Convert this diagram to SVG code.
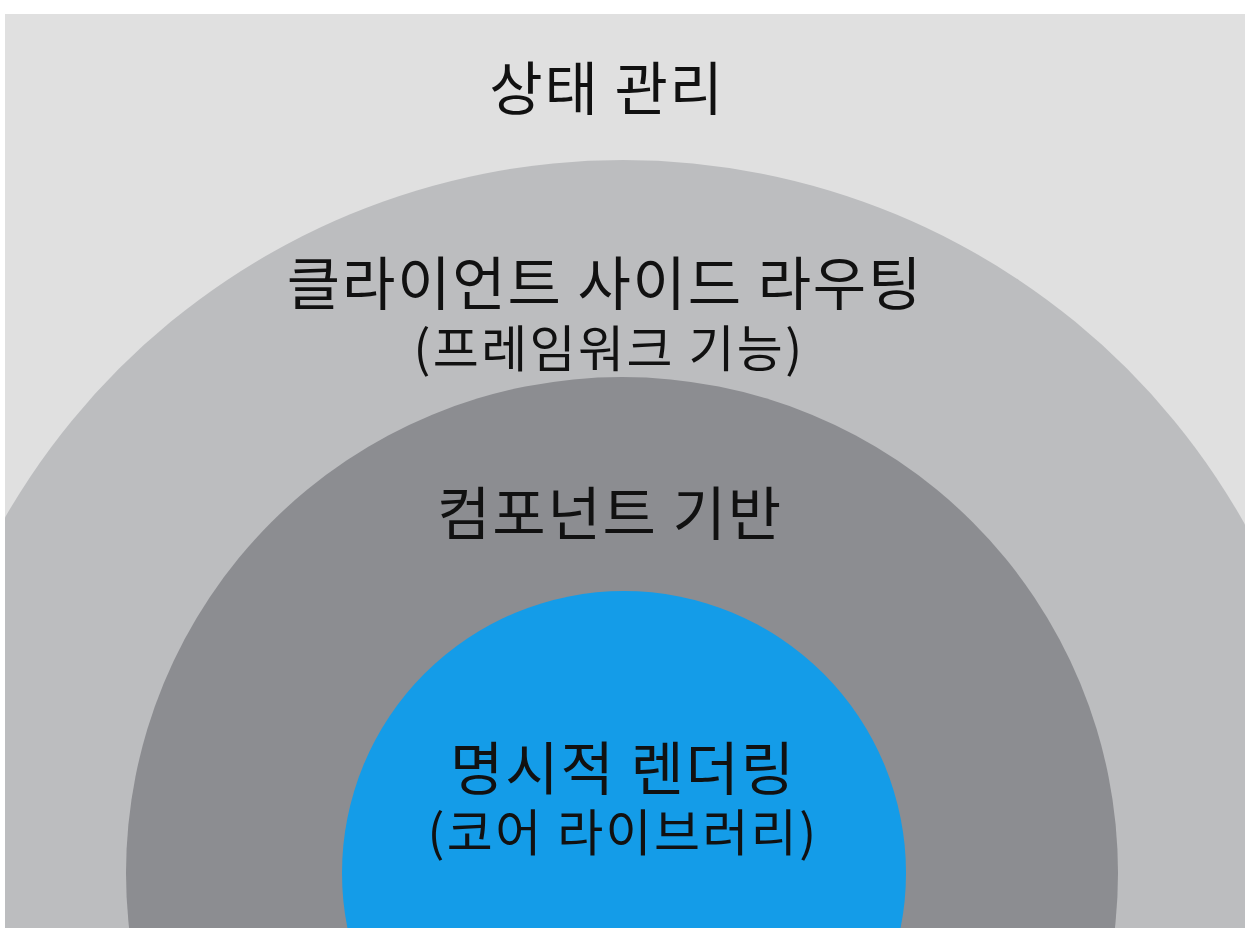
<svg xmlns="http://www.w3.org/2000/svg" width="1252" height="947" viewBox="0 0 1252 947">
<defs>
<style>
.t{font-family:"Noto Sans CJK KR","Noto Sans",sans-serif;fill:#111;text-anchor:middle}
.big{font-size:58px;letter-spacing:1.8px}
.sub{font-size:50px;letter-spacing:2.4px}
</style>
<clipPath id="frame"><rect x="5" y="14" width="1240" height="914"/></clipPath>
</defs>
<rect width="1252" height="947" fill="#ffffff"/>
<g id="state" clip-path="url(#frame)">
<rect x="5" y="14" width="1240" height="914" fill="#e0e0e0"/>
<text class="t big" x="607" y="110">상태 관리</text>
</g>
<g id="routing" clip-path="url(#frame)">
<circle cx="623" cy="873" r="713" fill="#bcbdbf"/>
<text class="t big" x="605" y="305">클라이언트 사이드 라우팅</text>
<text class="t sub" x="609" y="367">(프레임워크 기능)</text>
</g>
<g id="component" clip-path="url(#frame)">
<circle cx="622" cy="873" r="496" fill="#8c8d91"/>
<text class="t big" x="610" y="535">컴포넌트 기반</text>
</g>
<g id="rendering" clip-path="url(#frame)">
<circle cx="624" cy="873" r="282" fill="#149ce8"/>
<text class="t big" x="623" y="790">명시적 렌더링</text>
<text class="t sub" x="623" y="851">(코어 라이브러리)</text>
</g>
<g id="connectors"/>
</svg>
